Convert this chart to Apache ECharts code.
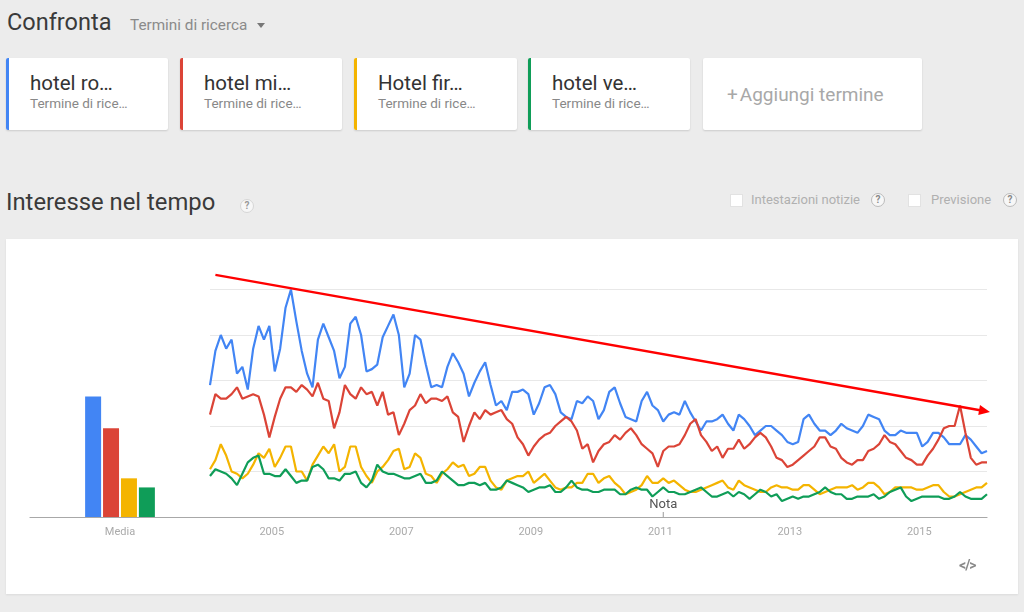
<!DOCTYPE html>
<html><head><meta charset="utf-8">
<script src="https://cdn.jsdelivr.net/npm/echarts@6/dist/echarts.min.js"></script>
<style>
body{margin:0;width:1024px;height:612px;background:#ececec;font-family:Roboto,"Noto Sans",Arial,sans-serif;overflow:hidden;position:relative}
.abs{position:absolute;white-space:nowrap}
.card{position:absolute;top:58px;height:72px;background:#fff;box-shadow:0 1px 2px rgba(0,0,0,0.14);border-radius:2px}
.card .bar{position:absolute;left:0;top:0;bottom:0;width:3px;border-radius:2px 0 0 2px}
.card .t{position:absolute;left:24px;top:13px;font-size:20.5px;line-height:24px;color:#333}
.card .s{position:absolute;left:24px;top:37px;font-size:13.5px;line-height:16px;color:#888}
.help{position:absolute;width:14px;height:14px;border-radius:50%;box-sizing:border-box;border:1px solid #d6d6d6;background:#f7f7f7;color:#999;font-size:10px;line-height:12px;text-align:center;font-weight:bold}
.chk{position:absolute;width:13px;height:13px;background:#fff;border:1px solid #e2e2e2;box-sizing:border-box}
#chart{position:absolute;left:6px;top:239px;width:1012px;height:355px;background:#fff;box-shadow:0 1px 2px rgba(0,0,0,0.08)}
</style></head>
<body>
<div class="abs" style="left:7px;top:8px;font-size:23.5px;line-height:28px;color:#3a3a3a">Confronta</div>
<div class="abs" style="left:130px;top:16px;font-size:15.3px;line-height:18px;color:#8a8a8a">Termini di ricerca</div>
<div class="abs" style="left:257px;top:23px;width:0;height:0;border-left:4px solid transparent;border-right:4px solid transparent;border-top:5px solid #777"></div>

<div class="card" style="left:6px;width:162px"><div class="bar" style="background:#4285f4"></div><div class="t">hotel ro…</div><div class="s">Termine di rice…</div></div>
<div class="card" style="left:180px;width:162px"><div class="bar" style="background:#db4437"></div><div class="t">hotel mi…</div><div class="s">Termine di rice…</div></div>
<div class="card" style="left:354px;width:163px"><div class="bar" style="background:#f4b400"></div><div class="t">Hotel fir…</div><div class="s">Termine di rice…</div></div>
<div class="card" style="left:528px;width:162px"><div class="bar" style="background:#0f9d58"></div><div class="t">hotel ve…</div><div class="s">Termine di rice…</div></div>
<div class="card" style="left:703px;width:219px"><div class="abs" style="left:24px;top:26px;font-size:19px;line-height:22px;color:#a8a8a8">+<span style="margin-left:2px">Aggiungi termine</span></div></div>

<div class="abs" style="left:6px;top:188px;font-size:23.8px;line-height:28px;color:#3a3a3a">Interesse nel tempo</div>
<div class="help" style="left:240px;top:199px">?</div>
<div class="chk" style="left:730px;top:194px"></div>
<div class="abs" style="left:751px;top:192px;font-size:13px;line-height:16px;color:#b0b0b0">Intestazioni notizie</div>
<div class="help" style="left:871px;top:193px;color:#888;border-color:#bbb">?</div>
<div class="chk" style="left:908px;top:194px"></div>
<div class="abs" style="left:931px;top:192px;font-size:13px;line-height:16px;color:#b0b0b0">Previsione</div>
<div class="help" style="left:1003px;top:193px;color:#888;border-color:#bbb">?</div>

<div id="chart"></div>
<div class="abs" style="left:959px;top:556px;font-size:14px;line-height:18px;color:#8a8a8a;font-weight:bold;letter-spacing:-1px">&lt;/&gt;</div>

<script>
// ---- data ----
const startYear = 2004;
const monthCount = 145; // Jan 2004 .. Jan 2016
const months = [];
for (let i = 0; i < monthCount; i++) {
  const y = startYear + Math.floor(i / 12), m = (i % 12) + 1;
  months.push(y + '-' + (m < 10 ? '0' + m : m));
}
const seriesNames = ['hotel roma', 'hotel milano', 'Hotel firenze', 'hotel venezia'];
const seriesColors = ['#4285f4', '#db4437', '#f4b400', '#0f9d58'];
const mediaCategory = ['Media'];
const mediaValues = [53, 39, 17, 13];

const roma = [58,73,80,74,78,63,66,56,74,84,78,84,64,74,92,100,86,73,63,57,78,85,79,73,61,66,85,88,80,64,65,67,79,84,89,80,57,63,80,78,67,57,58,57,66,72,68,63,53,59,64,68,58,49,51,47,55,55,56,54,45,50,57,58,54,46,44,43,51,50,53,51,43,47,55,57,50,44,43,42,51,55,49,47,42,45,46,45,51,46,42,38,42,42,43,45,41,38,45,43,40,36,38,40,40,38,36,33,32,33,43,45,41,38,38,36,38,41,39,38,37,40,45,44,43,38,36,36,38,37,37,37,31,33,37,37,35,32,32,32,36,34,31,28,29];
const milano = [45,54,52,52,54,57,52,53,54,53,45,35,44,52,57,57,55,58,56,53,59,52,51,39,46,58,54,52,57,54,55,49,55,45,46,36,41,47,49,54,50,52,52,51,53,46,44,33,40,46,43,47,45,46,47,43,41,35,32,27,31,34,36,37,40,42,44,42,38,30,32,24,29,32,33,36,34,37,39,36,32,30,28,22,29,31,31,32,36,41,43,36,33,29,31,26,30,30,34,30,32,35,37,35,31,26,25,22,23,25,27,29,31,35,35,31,30,26,24,23,25,25,29,30,32,36,33,32,29,26,25,23,23,27,30,34,39,40,40,49,37,26,23,24,24];
const firenze = [21,25,32,27,20,19,17,19,23,28,26,30,22,26,31,31,20,20,16,23,27,31,28,32,20,22,31,31,22,18,15,20,22,25,29,30,21,22,28,26,19,18,15,19,21,24,22,23,18,19,22,22,16,13,12,16,17,18,18,20,15,17,19,16,13,12,13,13,15,15,19,19,15,17,18,15,13,10,11,12,14,18,15,15,17,15,16,14,12,11,11,12,13,14,15,16,13,12,16,14,13,12,11,11,13,14,13,13,12,12,14,14,12,10,11,12,13,13,13,14,12,13,15,15,13,10,11,13,13,13,13,12,12,13,14,14,11,9,9,10,11,12,13,13,15];
const venezia = [18,21,20,19,17,14,19,24,26,27,19,19,18,18,21,18,15,16,16,22,23,21,17,17,16,19,19,20,15,13,16,23,20,19,19,18,17,17,18,19,15,15,16,20,18,16,14,14,15,15,14,15,12,12,13,16,15,14,13,11,12,13,13,14,11,11,13,16,13,12,12,11,11,12,12,12,10,10,12,13,12,12,9,11,13,11,11,10,10,11,12,13,11,9,9,10,11,9,11,10,8,10,12,11,9,10,7,8,9,8,9,9,10,11,13,11,10,10,8,8,9,9,9,10,8,9,11,12,13,9,7,8,9,9,9,9,8,8,9,11,9,8,8,8,10];
const lineData = [roma, milano, firenze, venezia];

const yTicks = [0, 20, 40, 60, 80, 100];
const labelEvery = 24, labelOffset = 12; // 2005, 2007, ...
const notaMonth = '2011-01';
// trend annotation, in data units (month index, interest)
const trendStart = [1, 106.4];
const trendEnd = [144, 46.4];

// ---- chart ----
const chart = echarts.init(document.getElementById('chart'), null, {renderer: 'canvas'});
const font = 'Roboto, "Noto Sans", Arial, sans-serif';
const series = [];
mediaValues.forEach((v, i) => {
  series.push({
    name: seriesNames[i], type: 'bar', xAxisIndex: 0, yAxisIndex: 0,
    data: [v], barWidth: 16, barGap: '12%', itemStyle: {color: seriesColors[i]}
  });
});
lineData.forEach((d, i) => {
  series.push({
    name: seriesNames[i], type: 'line', xAxisIndex: 1, yAxisIndex: 1,
    data: d, symbol: 'none', smooth: false,
    lineStyle: {color: seriesColors[i], width: 2.2}, itemStyle: {color: seriesColors[i]}
  });
});

chart.setOption({
  animation: false,
  textStyle: {fontFamily: font},
  grid: [
    {left: 24, width: 180, top: 50.5, bottom: 77},
    {left: 204, right: 31, top: 50.5, bottom: 77}
  ],
  xAxis: [
    {type: 'category', gridIndex: 0, data: mediaCategory,
     axisLine: {lineStyle: {color: '#a8a8a8', width: 1.2}}, axisTick: {show: false},
     axisLabel: {color: '#aaa', fontSize: 11, margin: 10}},
    {type: 'category', gridIndex: 1, data: months, boundaryGap: false,
     axisLine: {lineStyle: {color: '#a8a8a8', width: 1.2}}, axisTick: {show: false},
     axisLabel: {color: '#aaa', fontSize: 11, margin: 10, padding: [0, 6, 0, 0],
       interval: (idx) => idx % labelEvery === labelOffset,
       formatter: (v) => v.slice(0, 4)}}
  ],
  yAxis: [
    {type: 'value', gridIndex: 0, min: yTicks[0], max: yTicks[yTicks.length - 1], interval: 20,
     show: false},
    {type: 'value', gridIndex: 1, min: yTicks[0], max: yTicks[yTicks.length - 1], interval: 20,
     axisLine: {show: false}, axisTick: {show: false}, axisLabel: {show: false},
     splitLine: {lineStyle: {color: '#e8e8e8', width: 1}}}
  ],
  series: series
});

// annotations
const p0 = chart.convertToPixel({xAxisIndex: 1, yAxisIndex: 1}, trendStart);
const p1 = chart.convertToPixel({xAxisIndex: 1, yAxisIndex: 1}, trendEnd);
const dx = p1[0] - p0[0], dy = p1[1] - p0[1], len = Math.sqrt(dx * dx + dy * dy);
const ux = dx / len, uy = dy / len;
const tip = [p1[0] + ux * 3, p1[1] + uy * 3];
const headL = 11, headW = 5;
const base = [tip[0] - ux * headL, tip[1] - uy * headL];
const nIdx = months.indexOf(notaMonth);
const pn = chart.convertToPixel({xAxisIndex: 1, yAxisIndex: 1}, [nIdx, 0]);

chart.setOption({
  graphic: [
    {type: 'line', shape: {x1: p0[0], y1: p0[1], x2: base[0] + ux, y2: base[1] + uy},
     style: {stroke: '#ff0000', lineWidth: 2.4}, z: 100},
    {type: 'polygon', shape: {points: [tip,
      [base[0] - uy * headW, base[1] + ux * headW],
      [base[0] + uy * headW, base[1] - ux * headW]]},
     style: {fill: '#ff0000'}, z: 100},
    {type: 'line', shape: {x1: pn[0], y1: pn[1] - 5, x2: pn[0], y2: pn[1]},
     style: {stroke: '#999', lineWidth: 1}, z: 50},
    {type: 'text', x: pn[0], y: pn[1] - 12,
     style: {text: 'Nota', fill: '#555', font: '13px ' + font, textAlign: 'center', textVerticalAlign: 'middle'}, z: 60}
  ]
});
</script>
</body></html>
